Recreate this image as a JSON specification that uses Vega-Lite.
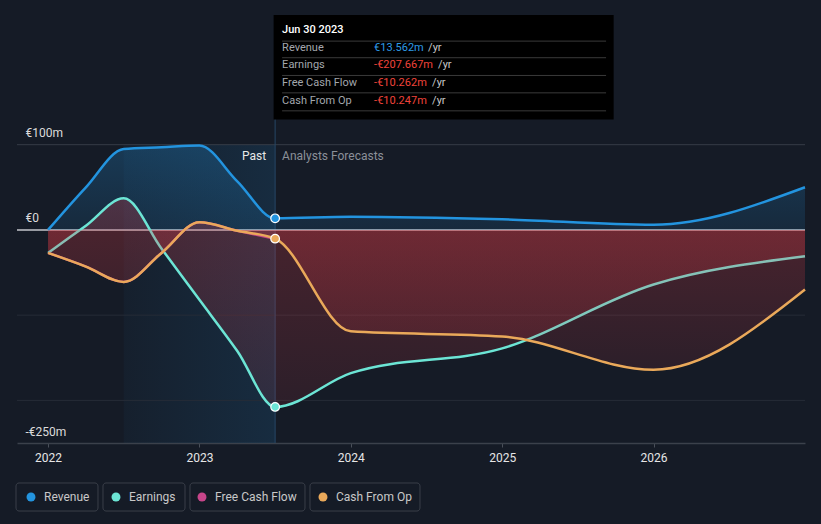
{
  "$schema": "https://vega.github.io/schema/vega-lite/v6.json",
  "width": 788,
  "height": 433,
  "autosize": {"type": "none"},
  "padding": {"left": 17, "top": 10, "right": 16, "bottom": 81},
  "background": "#151b26",
  "config": {
    "view": {"stroke": null},
    "font": "Roboto",
    "axis": {"title": null, "grid": false},
    "axisX": {"domainColor": "#3b414b", "domainWidth": 1.5, "tickColor": "#4a505a", "tickSize": 4, "labelColor": "#e6e6e6", "labelFontSize": 12, "labelPadding": 5},
    "axisY": {"domain": false, "ticks": false, "tickSize": 0, "labelAlign": "left", "labelPadding": -8, "labelBaseline": "middle", "labelOffset": -12, "labelColor": "#dcdcdc", "labelFontSize": 12}
  },
  "datasets": {
    "series": [
      {"year": 2022, "value": 0, "series": "Revenue"},
      {"year": 2022.25, "value": 50, "series": "Revenue"},
      {"year": 2022.5, "value": 95, "series": "Revenue"},
      {"year": 2022.75, "value": 97, "series": "Revenue"},
      {"year": 2023, "value": 99, "series": "Revenue"},
      {"year": 2023.25, "value": 57, "series": "Revenue"},
      {"year": 2023.5, "value": 13.562, "series": "Revenue"},
      {"year": 2024, "value": 15.5, "series": "Revenue"},
      {"year": 2025, "value": 12.5, "series": "Revenue"},
      {"year": 2026, "value": 6, "series": "Revenue"},
      {"year": 2027, "value": 50, "series": "Revenue"},
      {"year": 2022, "value": -27, "series": "Earnings"},
      {"year": 2022.25, "value": 5, "series": "Earnings"},
      {"year": 2022.5, "value": 37, "series": "Earnings"},
      {"year": 2022.75, "value": -22, "series": "Earnings"},
      {"year": 2023, "value": -82, "series": "Earnings"},
      {"year": 2023.25, "value": -142, "series": "Earnings"},
      {"year": 2023.5, "value": -207.667, "series": "Earnings"},
      {"year": 2024, "value": -168, "series": "Earnings"},
      {"year": 2025, "value": -139, "series": "Earnings"},
      {"year": 2026, "value": -64, "series": "Earnings"},
      {"year": 2027, "value": -31, "series": "Earnings"},
      {"year": 2022, "value": -27, "series": "Free Cash Flow"},
      {"year": 2022.25, "value": -43, "series": "Free Cash Flow"},
      {"year": 2022.5, "value": -61, "series": "Free Cash Flow"},
      {"year": 2022.75, "value": -27, "series": "Free Cash Flow"},
      {"year": 2023, "value": 9, "series": "Free Cash Flow"},
      {"year": 2023.25, "value": -1, "series": "Free Cash Flow"},
      {"year": 2023.5, "value": -10.262, "series": "Free Cash Flow"},
      {"year": 2022, "value": -27, "series": "Cash From Op"},
      {"year": 2022.25, "value": -43, "series": "Cash From Op"},
      {"year": 2022.5, "value": -61, "series": "Cash From Op"},
      {"year": 2022.75, "value": -27, "series": "Cash From Op"},
      {"year": 2023, "value": 9, "series": "Cash From Op"},
      {"year": 2023.25, "value": -1, "series": "Cash From Op"},
      {"year": 2023.5, "value": -10.247, "series": "Cash From Op"},
      {"year": 2024, "value": -119, "series": "Cash From Op"},
      {"year": 2025, "value": -125, "series": "Cash From Op"},
      {"year": 2026, "value": -164, "series": "Cash From Op"},
      {"year": 2027, "value": -70, "series": "Cash From Op"}
    ],
    "tip": [
      {"label": "Revenue", "amount": "€13.562m", "row": 212.9},
      {"label": "Earnings", "amount": "-€207.667m", "row": 192.9},
      {"label": "Free Cash Flow", "amount": "-€10.262m", "row": 171.8},
      {"label": "Cash From Op", "amount": "-€10.247m", "row": 151.8}
    ],
    "seps": [{"row": 221.5}, {"row": 202}, {"row": 181.2}, {"row": 160.8}, {"row": 139.7}],
    "grid": [{"value": -100}, {"value": -200}],
    "one": [{"k": 1}]
  },
  "layer": [
    {
      "data": {"name": "one"},
      "mark": {"type": "rect", "color": {"gradient": "linear", "x1": 0, "y1": 0, "x2": 1, "y2": 0, "stops": [{"offset": 0, "color": "rgba(35,148,223,0.04)"}, {"offset": 1, "color": "rgba(35,148,223,0.14)"}]}},
      "encoding": {
        "x": {"datum": 2022.5, "type": "quantitative", "scale": {"domain": [2021.795, 2027], "nice": false, "zero": false}, "axis": {"values": [2022, 2023, 2024, 2025, 2026], "format": "d"}},
        "x2": {"datum": 2023.5},
        "y": {"datum": 100, "type": "quantitative", "scale": {"domain": [-250, 258], "nice": false, "zero": false}, "axis": {"values": [100, 0, -250], "labelExpr": "datum.value == 100 ? '€100m' : datum.value == 0 ? '€0' : '-€250m'"}},
        "y2": {"datum": -250}
      }
    },
    {
      "data": {"name": "grid"},
      "mark": {"type": "rule", "color": "#262c37", "strokeWidth": 1},
      "encoding": {"y": {"field": "value", "type": "quantitative"}}
    },
    {
      "data": {"name": "one"},
      "mark": {"type": "rule", "color": "#363c47", "strokeWidth": 1},
      "encoding": {"y": {"datum": 100, "type": "quantitative"}}
    },
    {
      "data": {"name": "one"},
      "mark": {"type": "rule", "color": "#264766", "strokeWidth": 1},
      "encoding": {"x": {"datum": 2023.5, "type": "quantitative"}, "y": {"datum": -250, "type": "quantitative"}, "y2": {"datum": 130}}
    },
    {
      "data": {"name": "one"},
      "mark": {"type": "rule", "color": "#c4c7cc", "strokeWidth": 1.5},
      "encoding": {"y": {"datum": 0, "type": "quantitative"}}
    },
    {
      "data": {"name": "series"},
      "transform": [{"filter": "datum.series === 'Revenue'"}],
      "mark": {"type": "area", "interpolate": "monotone", "color": {"gradient": "linear", "x1": 0, "y1": 0, "x2": 0, "y2": 1, "stops": [{"offset": 0, "color": "rgba(35,148,223,0.26)"}, {"offset": 1, "color": "rgba(35,148,223,0.12)"}]}},
      "encoding": {"x": {"field": "year", "type": "quantitative"}, "y": {"field": "value", "type": "quantitative"}, "y2": {"datum": 0}}
    },
    {
      "data": {"name": "series"},
      "transform": [{"filter": "datum.series === 'Earnings'"}],
      "mark": {"type": "area", "interpolate": "monotone", "color": {"gradient": "linear", "x1": 0, "y1": 0, "x2": 0, "y2": 1, "stops": [{"offset": 0, "color": "rgba(230,60,70,0.26)"}, {"offset": 1, "color": "rgba(230,60,70,0.11)"}]}},
      "encoding": {"x": {"field": "year", "type": "quantitative"}, "y": {"field": "value", "type": "quantitative"}, "y2": {"datum": 0}}
    },
    {
      "data": {"name": "series"},
      "transform": [{"filter": "datum.series === 'Earnings'"}],
      "mark": {"type": "line", "interpolate": "monotone", "color": "#6ce5d5", "strokeWidth": 2.5},
      "encoding": {"x": {"field": "year", "type": "quantitative"}, "y": {"field": "value", "type": "quantitative"}}
    },
    {
      "data": {"name": "series"},
      "transform": [{"filter": "datum.series === 'Cash From Op'"}],
      "mark": {"type": "area", "interpolate": "monotone", "color": {"gradient": "linear", "x1": 0, "y1": 0, "x2": 0, "y2": 1, "stops": [{"offset": 0, "color": "rgba(230,60,70,0.26)"}, {"offset": 1, "color": "rgba(230,60,70,0.11)"}]}},
      "encoding": {"x": {"field": "year", "type": "quantitative"}, "y": {"field": "value", "type": "quantitative"}, "y2": {"datum": 0}}
    },
    {
      "data": {"name": "series"},
      "transform": [{"filter": "datum.series === 'Free Cash Flow'"}],
      "mark": {"type": "line", "interpolate": "monotone", "color": "#c7458a", "strokeWidth": 2.5},
      "encoding": {"x": {"field": "year", "type": "quantitative"}, "y": {"field": "value", "type": "quantitative"}}
    },
    {
      "data": {"name": "series"},
      "transform": [{"filter": "datum.series === 'Cash From Op'"}],
      "mark": {"type": "line", "interpolate": "monotone", "color": "#eaa95a", "strokeWidth": 2.5},
      "encoding": {"x": {"field": "year", "type": "quantitative"}, "y": {"field": "value", "type": "quantitative"}}
    },
    {
      "data": {"name": "series"},
      "transform": [{"filter": "datum.series === 'Revenue'"}],
      "mark": {"type": "line", "interpolate": "monotone", "color": "#2394df", "strokeWidth": 2.5},
      "encoding": {"x": {"field": "year", "type": "quantitative"}, "y": {"field": "value", "type": "quantitative"}}
    },
    {
      "data": {"name": "series"},
      "transform": [{"filter": "datum.year === 2023.5 && datum.series !== 'Free Cash Flow'"}],
      "mark": {"type": "point", "filled": true, "size": 75, "stroke": "#ffffff", "strokeWidth": 1.2, "opacity": 1},
      "encoding": {
        "x": {"field": "year", "type": "quantitative"},
        "y": {"field": "value", "type": "quantitative"},
        "fill": {
          "field": "series", "type": "nominal",
          "scale": {"domain": ["Revenue", "Earnings", "Free Cash Flow", "Cash From Op"], "range": ["#2394df", "#6ce5d5", "#c7458a", "#eaa95a"]},
          "legend": {"title": null, "orient": "none", "legendX": 8, "legendY": 481, "direction": "horizontal", "columns": 4, "columnPadding": 20, "symbolType": "circle", "symbolSize": 80, "symbolStrokeWidth": 0, "labelColor": "#c8c8c8", "labelFontSize": 12, "labelOffset": 7, "labelFont": "Roboto"}
        }
      }
    },
    {
      "data": {"name": "one"},
      "mark": {"type": "rect", "fill": null, "stroke": "#3a3f49", "strokeWidth": 1, "cornerRadius": 3, "clip": false},
      "encoding": {"x": {"datum": 2021.7884, "type": "quantitative"}, "x2": {"datum": 2022.33}, "y": {"datum": -296.9, "type": "quantitative"}, "y2": {"datum": -329.8}}
    },
    {
      "data": {"name": "one"},
      "mark": {"type": "rect", "fill": null, "stroke": "#3a3f49", "strokeWidth": 1, "cornerRadius": 3, "clip": false},
      "encoding": {"x": {"datum": 2022.363, "type": "quantitative"}, "x2": {"datum": 2022.9047}, "y": {"datum": -296.9, "type": "quantitative"}, "y2": {"datum": -329.8}}
    },
    {
      "data": {"name": "one"},
      "mark": {"type": "rect", "fill": null, "stroke": "#3a3f49", "strokeWidth": 1, "cornerRadius": 3, "clip": false},
      "encoding": {"x": {"datum": 2022.9377, "type": "quantitative"}, "x2": {"datum": 2023.6973}, "y": {"datum": -296.9, "type": "quantitative"}, "y2": {"datum": -329.8}}
    },
    {
      "data": {"name": "one"},
      "mark": {"type": "rect", "fill": null, "stroke": "#3a3f49", "strokeWidth": 1, "cornerRadius": 3, "clip": false},
      "encoding": {"x": {"datum": 2023.7303, "type": "quantitative"}, "x2": {"datum": 2024.4569}, "y": {"datum": -296.9, "type": "quantitative"}, "y2": {"datum": -329.8}}
    },
    {
      "data": {"name": "one"},
      "mark": {"type": "text", "align": "right", "baseline": "middle", "dx": -9, "color": "#e8e8e8", "fontSize": 12, "text": "Past"},
      "encoding": {"x": {"datum": 2023.5, "type": "quantitative"}, "y": {"datum": 87, "type": "quantitative"}}
    },
    {
      "data": {"name": "one"},
      "mark": {"type": "text", "align": "left", "baseline": "middle", "dx": 7, "color": "#8b9099", "fontSize": 12, "text": "Analysts Forecasts"},
      "encoding": {"x": {"datum": 2023.5, "type": "quantitative"}, "y": {"datum": 87, "type": "quantitative"}}
    },
    {
      "data": {"name": "one"},
      "mark": {"type": "rect", "color": "#000000"},
      "encoding": {"x": {"datum": 2023.49, "type": "quantitative"}, "x2": {"datum": 2025.736}, "y": {"datum": 252, "type": "quantitative"}, "y2": {"datum": 129.4}}
    },
    {
      "data": {"name": "seps"},
      "mark": {"type": "rule", "color": "#3a3a3a", "strokeWidth": 1},
      "encoding": {"x": {"datum": 2023.546, "type": "quantitative"}, "x2": {"datum": 2025.686}, "y": {"field": "row", "type": "quantitative"}}
    },
    {
      "data": {"name": "one"},
      "mark": {"type": "text", "align": "left", "baseline": "middle", "dx": 7, "color": "#ffffff", "fontSize": 11, "fontWeight": 500, "text": "Jun 30 2023"},
      "encoding": {"x": {"datum": 2023.5, "type": "quantitative"}, "y": {"datum": 234, "type": "quantitative"}}
    },
    {
      "data": {"name": "tip"},
      "mark": {"type": "text", "align": "left", "baseline": "middle", "dx": 7, "color": "#a3a7ad", "fontSize": 11},
      "encoding": {"x": {"datum": 2023.5, "type": "quantitative"}, "y": {"field": "row", "type": "quantitative"}, "text": {"field": "label"}}
    },
    {
      "data": {"name": "tip"},
      "mark": {"type": "text", "align": "left", "baseline": "middle", "dx": 99, "fontSize": 11},
      "encoding": {
        "x": {"datum": 2023.5, "type": "quantitative"}, "y": {"field": "row", "type": "quantitative"}, "text": {"field": "amount"},
        "color": {"condition": {"test": "datum.label === 'Revenue'", "value": "#2e9be6"}, "value": "#f0433a"}
      }
    },
    {
      "data": {"name": "tip"},
      "transform": [{"filter": "datum.label === 'Revenue'"}],
      "mark": {"type": "text", "align": "left", "baseline": "middle", "dx": 153, "color": "#c8c8c8", "fontSize": 11, "text": "/yr"},
      "encoding": {"x": {"datum": 2023.5, "type": "quantitative"}, "y": {"field": "row", "type": "quantitative"}}
    },
    {
      "data": {"name": "tip"},
      "transform": [{"filter": "datum.label === 'Earnings'"}],
      "mark": {"type": "text", "align": "left", "baseline": "middle", "dx": 163, "color": "#c8c8c8", "fontSize": 11, "text": "/yr"},
      "encoding": {"x": {"datum": 2023.5, "type": "quantitative"}, "y": {"field": "row", "type": "quantitative"}}
    },
    {
      "data": {"name": "tip"},
      "transform": [{"filter": "datum.label === 'Free Cash Flow' || datum.label === 'Cash From Op'"}],
      "mark": {"type": "text", "align": "left", "baseline": "middle", "dx": 157, "color": "#c8c8c8", "fontSize": 11, "text": "/yr"},
      "encoding": {"x": {"datum": 2023.5, "type": "quantitative"}, "y": {"field": "row", "type": "quantitative"}}
    }
  ]
}
